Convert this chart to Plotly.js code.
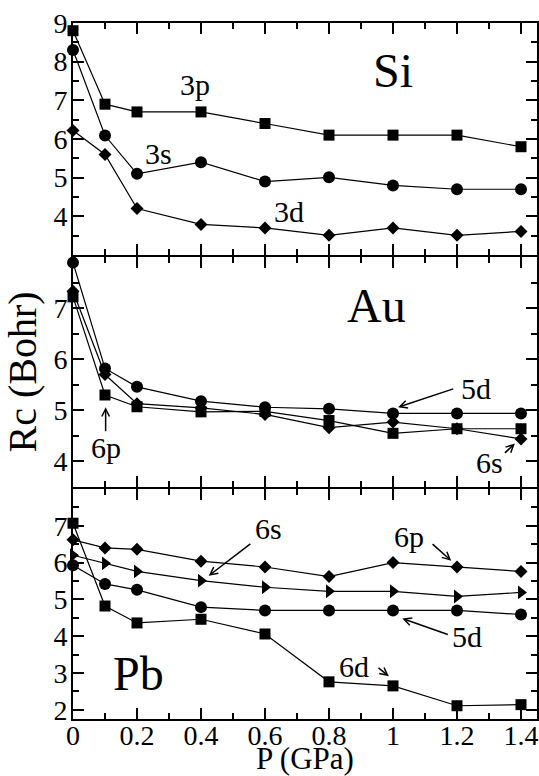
<!DOCTYPE html>
<html>
<head>
<meta charset="utf-8">
<script src="https://cdn.plot.ly/plotly-3.0.1.min.js"></script>
<style>
html,body{margin:0;padding:0;background:#fff;font-family:"Times New Roman",serif;}
#chart{width:539px;height:776px;}
#chart svg text{font-family:"Times New Roman","Liberation Serif",serif !important;}
#chart .xaxislayer-above g.xtick{transform:translate(0px,-10px);}
</style>
</head>
<body>
<div id="chart"></div>
<script>
// Pressure (GPa)
var P = [0, 0.1, 0.2, 0.4, 0.6, 0.8, 1.0, 1.2, 1.4];

// Si cutoff radii (Bohr)
var si3p = [8.8, 6.9, 6.7, 6.7, 6.4, 6.1, 6.1, 6.1, 5.8];
var si3s = [8.3, 6.09, 5.1, 5.4, 4.9, 5.01, 4.8, 4.7, 4.7];
var si3d = [6.22, 5.6, 4.2, 3.79, 3.7, 3.51, 3.7, 3.51, 3.61];

// Au cutoff radii (Bohr)
var au5d = [7.89, 5.82, 5.46, 5.18, 5.06, 5.03, 4.94, 4.94, 4.94];
var au6p = [7.22, 5.30, 5.07, 4.97, 4.98, 4.80, 4.55, 4.64, 4.64];
var au6s = [7.33, 5.70, 5.13, 5.05, 4.92, 4.66, 4.77, 4.64, 4.44];

// Pb cutoff radii (Bohr)
var pb6p = [6.62, 6.40, 6.36, 6.04, 5.88, 5.62, 6.0, 5.88, 5.76];
var pb6s = [6.2, 5.98, 5.76, 5.51, 5.33, 5.22, 5.22, 5.08, 5.19];
var pb5d = [5.93, 5.42, 5.26, 4.79, 4.70, 4.70, 4.70, 4.70, 4.59];
var pb6d = [7.07, 4.82, 4.36, 4.46, 4.06, 2.76, 2.65, 2.11, 2.14];

// Tick labels
var xTickVals = [0, 0.2, 0.4, 0.6, 0.8, 1, 1.2, 1.4];
var xTickText = ["0", "0.2", "0.4", "0.6", "0.8", "1", "1.2", "1.4"];
var siTicks = [4, 5, 6, 7, 8, 9];
var auTicks = [4, 5, 6, 7];
var pbTicks = [2, 3, 4, 5, 6, 7];

var FONT = "Times New Roman, serif";

function tr(y, sym, size, xa, ya, name) {
  return {
    x: P, y: y, type: "scatter", mode: "lines+markers", name: name,
    xaxis: xa, yaxis: ya, cliponaxis: false,
    line: {color: "black", width: 1.2},
    marker: {symbol: sym, size: size, color: "black"}
  };
}

var data = [
  tr(si3p, "square", 11, "x3", "y3", "Si 3p"),
  tr(si3s, "circle", 12, "x3", "y3", "Si 3s"),
  tr(si3d, "diamond", 10, "x3", "y3", "Si 3d"),
  tr(au5d, "circle", 12, "x2", "y2", "Au 5d"),
  tr(au6p, "square", 11, "x2", "y2", "Au 6p"),
  tr(au6s, "diamond", 10, "x2", "y2", "Au 6s"),
  tr(pb6p, "diamond", 10, "x", "y", "Pb 6p"),
  tr(pb6s, "triangle-right", 12, "x", "y", "Pb 6s"),
  tr(pb5d, "circle", 12, "x", "y", "Pb 5d"),
  tr(pb6d, "square", 11, "x", "y", "Pb 6d")
];

function xax(anchor, showLabels) {
  return {
    anchor: anchor, range: [0, 1.45], showline: true, linewidth: 2, linecolor: "black",
    mirror: "ticks", ticks: "inside", ticklen: 11, tickwidth: 1.5, tickcolor: "black",
    tickmode: "array", tickvals: xTickVals, ticktext: xTickText,
    showticklabels: showLabels, showgrid: false, zeroline: false,
    ticklabeloverflow: "allow",
    tickfont: {family: FONT, size: 28, color: "black"},
    minor: {tickmode: "linear", tick0: 0, dtick: 0.1, ticks: "inside", ticklen: 6, tickwidth: 1.5, tickcolor: "black", showgrid: false}
  };
}
function yax(anchor, domain, range, tv, title) {
  var a = {
    anchor: anchor, domain: domain, range: range, showline: true, linewidth: 2, linecolor: "black",
    mirror: "ticks", ticks: "inside", ticklen: 11, tickwidth: 1.5, tickcolor: "black",
    tickmode: "array", tickvals: tv, showgrid: false, zeroline: false,
    ticklabeloverflow: "allow", ticklabelstandoff: -2,
    tickfont: {family: FONT, size: 28, color: "black"},
    minor: {tickmode: "linear", tick0: 0, dtick: 0.5, ticks: "inside", ticklen: 6, tickwidth: 1.5, tickcolor: "black", showgrid: false}
  };
  if (title) a.title = {text: title, font: {family: FONT, size: 40, color: "black"}, standoff: 4};
  return a;
}

function txt(x, y, ax, ay, s, size) {
  return {x: x, y: y, xref: ax, yref: ay, text: s, showarrow: false,
    font: {family: FONT, size: size, color: "black"}};
}
function arr(x, y, tx, ty, xr, yr) {
  return {x: x, y: y, ax: tx, ay: ty, xref: xr, yref: yr, axref: xr, ayref: yr,
    text: "", showarrow: true, arrowhead: 5, arrowsize: 1, arrowwidth: 1.5, arrowcolor: "black", standoff: 0, startstandoff: 0};
}

var annotations = [
  txt(1.001, 7.78, "x3", "y3", "Si", 48),
  txt(0.380, 7.42, "x3", "y3", "3p", 30),
  txt(0.266, 5.63, "x3", "y3", "3s", 30),
  txt(0.675, 4.13, "x3", "y3", "3d", 30),

  txt(0.948, 7.05, "x2", "y2", "Au", 48),
  txt(1.259, 5.43, "x2", "y2", "5d", 30),
  txt(0.103, 4.27, "x2", "y2", "6p", 30),
  txt(1.301, 3.98, "x2", "y2", "6s", 30),
  arr(1.016, 5.06, 1.193, 5.43, "x2", "y2"),
  arr(0.102, 5.06, 0.102, 4.56, "x2", "y2"),
  arr(1.381, 4.35, 1.345, 4.14, "x2", "y2"),

  txt(0.206, 2.98, "x", "y", "Pb", 48),
  txt(0.611, 6.94, "x", "y", "6s", 30),
  txt(1.049, 6.70, "x", "y", "6p", 30),
  txt(1.231, 4.00, "x", "y", "5d", 30),
  txt(0.878, 3.17, "x", "y", "6d", 30),
  arr(0.424, 5.64, 0.559, 6.54, "x", "y"),
  arr(1.182, 6.05, 1.119, 6.54, "x", "y"),
  arr(1.029, 4.48, 1.176, 4.03, "x", "y"),
  arr(0.987, 2.91, 0.950, 3.17, "x", "y"),

  // x-axis title, placed below the tick labels
  {x: 0.5, y: -0.057, xref: "paper", yref: "paper", xanchor: "center", yanchor: "middle",
   text: "P (GPa)", showarrow: false, font: {family: FONT, size: 31, color: "black"}}
];

// panel domains: 2px gap so that the 2px border lines of adjacent panels coincide
var H = 776 - 23 - 57;
var g = 2 / H;
var layout = {
  width: 539, height: 776,
  margin: {l: 73, r: 2, t: 23, b: 57},
  paper_bgcolor: "white", plot_bgcolor: "white",
  showlegend: false,
  font: {family: FONT, color: "black"},
  xaxis: xax("y", true),
  xaxis2: Object.assign(xax("y2", false), {matches: "x"}),
  xaxis3: Object.assign(xax("y3", false), {matches: "x"}),
  yaxis: yax("x", [0, 1/3 - g], [1.75, 8], pbTicks),
  yaxis2: yax("x2", [1/3, 2/3 - g], [3.5, 8], auTicks, "Rc (Bohr)"),
  yaxis3: yax("x3", [2/3, 1], [3, 9], siTicks),
  annotations: annotations
};

Plotly.newPlot("chart", data, layout, {displayModeBar: false});
</script>
</body>
</html>
